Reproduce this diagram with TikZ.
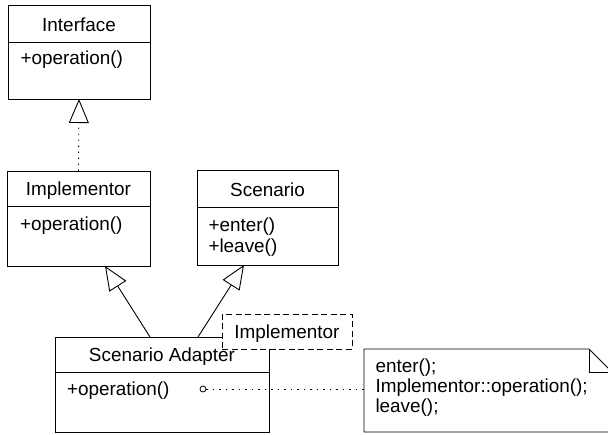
\documentclass[tikz,border=0pt]{standalone}
\usepackage{fontspec}
\setmainfont{Liberation Sans}
\usetikzlibrary{arrows.meta}
\begin{document}
\begin{tikzpicture}[x=1pt,y=-1pt,
  every node/.style={font=\fontsize{18.9}{20.5}\selectfont, inner sep=0pt, outer sep=0pt},
  classbox/.style={draw, line width=0.9pt, fill=white, anchor=north west},
  lbl/.style={anchor=base west},
  ttl/.style={anchor=base},
  ln/.style={line width=0.9pt},
  gen/.style={line width=0.9pt, -{Triangle[open, length=24pt, width=20pt, line width=0.9pt]}},
  realiz/.style={gen, dash pattern=on 1.5pt off 4.5pt},
  dotline/.style={line width=0.9pt, dash pattern=on 1.5pt off 5pt},
  tparambox/.style={draw, line width=0.9pt, fill=white, dash pattern=on 6pt off 3.5pt, anchor=north west},
]
\useasboundingbox (0,0) rectangle (608,434);
\clip (0,0) rectangle (608,434);

% Interface
\node[classbox, minimum width=142pt, minimum height=94pt] (iface) at (8,5) {};
\draw[ln] ([yshift=-37pt]iface.north west) -- ([yshift=-37pt]iface.north east);
\node[ttl] (ifaceT) at (79,31.7) {Interface};
\node[lbl] (ifaceOp) at (20.5,64.5) {+operation()};

% Implementor
\node[classbox, minimum width=143pt, minimum height=95pt] (impl) at (7,171) {};
\draw[ln] ([yshift=-35pt]impl.north west) -- ([yshift=-35pt]impl.north east);
\node[ttl] (implT) at (78.5,195.5) {Implementor};
\node[lbl] (implOp) at (20,230.7) {+operation()};

% Scenario
\node[classbox, minimum width=141pt, minimum height=95pt] (scen) at (197,170) {};
\draw[ln] ([yshift=-37pt]scen.north west) -- ([yshift=-37pt]scen.north east);
\node[ttl] (scenT) at (267.5,196) {Scenario};
\node[lbl] (scenOp1) at (208.5,231.5) {+enter()};
\node[lbl] (scenOp2) at (208.5,252) {+leave()};

% Scenario Adapter
\node[classbox, minimum width=214pt, minimum height=95pt] (adapter) at (55,337) {};
\draw[ln] ([yshift=-35pt]adapter.north west) -- ([yshift=-35pt]adapter.north east);
\node[lbl] (adapterOp) at (67,395) {+operation()};

% connectors
\draw[realiz] (impl.north) -- (iface.south);
\draw[gen] ([xshift=95pt]adapter.north west) -- ([xshift=98pt]impl.south west);
\draw[gen] ([xshift=143pt]adapter.north west) -- ([xshift=47pt]scen.south west);

% template parameter
\node[tparambox, minimum width=130pt, minimum height=35pt] (tparam) at (222,314) {};
\node[ttl] (tparamT) at (287,338.3) {Implementor};
\node[ttl] (adapterT) at (162,361.5) {Scenario Adapter};

% note
\node[anchor=north west, minimum width=248pt, minimum height=83pt] (note) at (364,349) {};
\draw[ln, fill=white] (note.north west) -- ([xshift=-23pt]note.north east) -- ([yshift=-23pt]note.north east)
  -- (note.south east) -- (note.south west) -- cycle;
\draw[ln] ([xshift=-23pt]note.north east) -- ([xshift=-23pt,yshift=-23pt]note.north east) -- ([yshift=-23pt]note.north east);
\node[lbl] (noteL1) at (375.5,372) {enter();};
\node[lbl] (noteL2) at (375.5,392.3) {Implementor::operation();};
\node[lbl] (noteL3) at (375.5,412.5) {leave();};

% note link
\node[circle, draw, fill=white, minimum size=6pt, line width=0.8pt] (dot) at (203,389) {};
\draw[dotline] (dot.east) -- (dot.east -| note.west);
\end{tikzpicture}
\end{document}
